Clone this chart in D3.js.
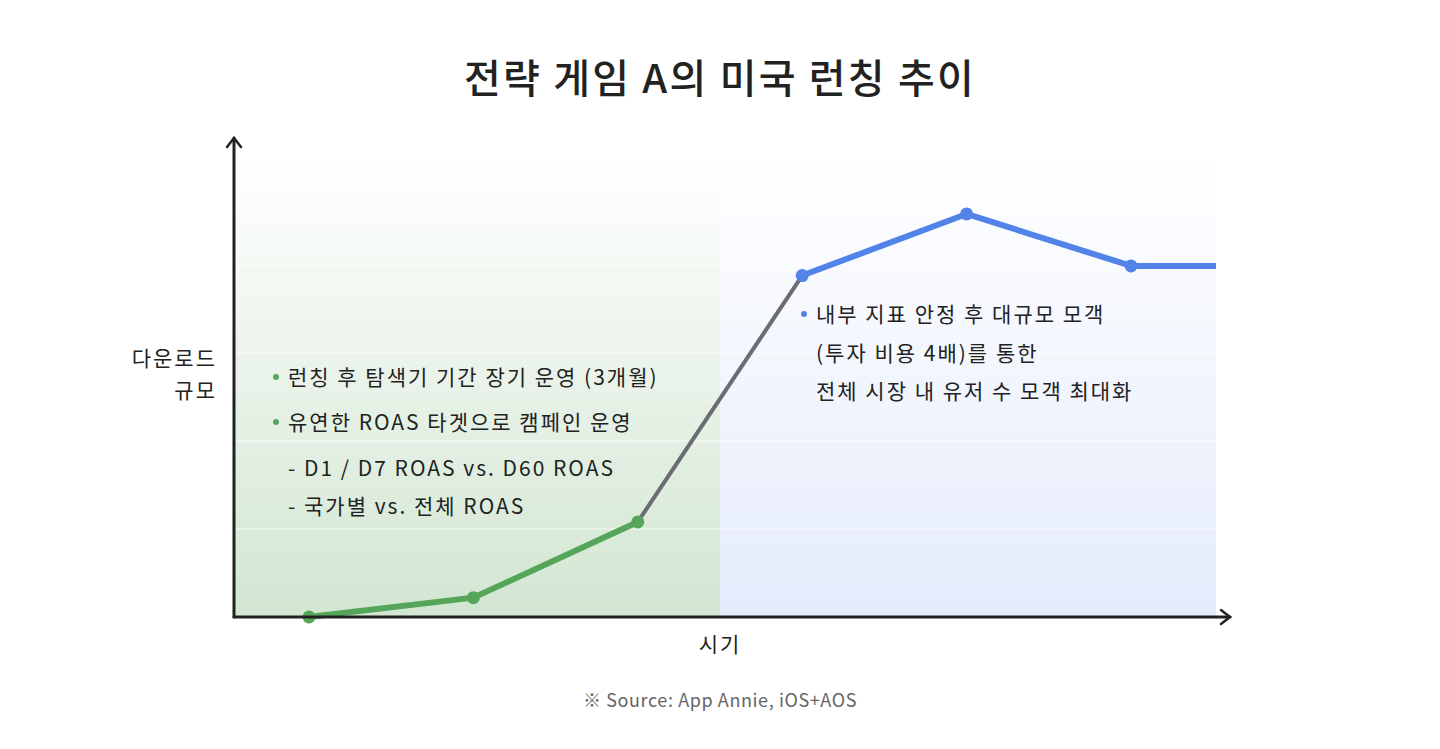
<!DOCTYPE html>
<html><head><meta charset="utf-8">
<script src="https://cdn.jsdelivr.net/npm/d3@7"></script>
<style>body{margin:0;background:#fff}svg{display:block;font-family:"Noto Sans CJK KR","Noto Sans",sans-serif}</style>
</head><body><svg id="c" width="1440" height="749"></svg>
<script>
const periods = [0,1,2,3,4,5];
const downloads = [0, 0.22, 1.08, 3.88, 4.58, 3.99];
const tailValue = 3.99;
const gridTicks = [1,2,3,4,5];
const greenNotes = ["런칭 후 탐색기 기간 장기 운영 (3개월)","유연한 ROAS 타겟으로 캠페인 운영"];
const greenSub = ["- D1 / D7 ROAS vs. D60 ROAS","- 국가별 vs. 전체 ROAS"];
const blueNotes = ["내부 지표 안정 후 대규모 모객","(투자 비용 4배)를 통한","전체 시장 내 유저 수 모객 최대화"];

const svg = d3.select("#c");
const x = d3.scaleLinear().domain([-0.456, 5.517]).range([234,1216]);
const y = d3.scaleLinear().domain([0,5.25]).range([617,155]);
const defs = svg.append("defs");
const g1 = defs.append("linearGradient").attr("id","gg").attr("x1",0).attr("x2",0).attr("y1",0).attr("y2",1);
g1.append("stop").attr("offset",0).attr("stop-color","#ffffff");
g1.append("stop").attr("offset",1).attr("stop-color","#d2e6d2");
const g2 = defs.append("linearGradient").attr("id","gb").attr("x1",0).attr("x2",0).attr("y1",0).attr("y2",1);
g2.append("stop").attr("offset",0).attr("stop-color","#ffffff");
g2.append("stop").attr("offset",1).attr("stop-color","#e4ebfb");
svg.append("rect").attr("x",x(-0.456)).attr("y",y(5.25)).attr("width",x(2.5)-x(-0.456)).attr("height",y(0)-y(5.25)).attr("fill","url(#gg)");
svg.append("rect").attr("x",x(2.5)).attr("y",y(5.25)).attr("width",x(5.517)-x(2.5)).attr("height",y(0)-y(5.25)).attr("fill","url(#gb)");
svg.append("g").selectAll("line").data(gridTicks).join("line")
 .attr("x1",234).attr("x2",1216).attr("y1",d=>y(d)).attr("y2",d=>y(d)).attr("stroke","#ffffff").attr("stroke-opacity",0.8);

const line = d3.line().x(d=>x(d[0])).y(d=>y(d[1]));
const pts = periods.map((p,i)=>[p,downloads[i]]);
svg.append("path").attr("d",line(pts.slice(2,4))).attr("stroke","#6b6b72").attr("stroke-width",4).attr("fill","none");
svg.append("path").attr("d",line(pts.slice(0,3))).attr("stroke","#55a65a").attr("stroke-width",6).attr("fill","none").attr("stroke-linejoin","round");
svg.append("path").attr("d",line(pts.slice(3).concat([[5.517,tailValue]]))).attr("stroke","#5283e8").attr("stroke-width",6).attr("fill","none").attr("stroke-linejoin","round");
svg.append("g").selectAll("circle").data(pts).join("circle")
 .attr("cx",d=>x(d[0])).attr("cy",d=>y(d[1])).attr("r",6.5).attr("fill",(d,i)=>i<3?"#55a65a":"#5283e8");

const ax = svg.append("g").attr("stroke","#222").attr("stroke-width",3).attr("fill","none").attr("stroke-linecap","round");
ax.append("line").attr("x1",234).attr("y1",617).attr("x2",234).attr("y2",138);
ax.append("line").attr("x1",234).attr("y1",617).attr("x2",1230).attr("y2",617);
ax.append("path").attr("d","M227,147 L234,138 L241,147").attr("stroke-width",2.5);
ax.append("path").attr("d","M1221,610 L1230,617 L1221,624").attr("stroke-width",2.5);

svg.append("text").attr("x",720).attr("y",93).attr("text-anchor","middle").attr("font-size",40).attr("font-weight",500).attr("letter-spacing",2.2).attr("fill","#222").text("전략 게임 A의 미국 런칭 추이");
svg.append("text").attr("x",217).attr("y",366).attr("text-anchor","end").attr("font-size",21).attr("letter-spacing",2).attr("fill","#222").text("다운로드");
svg.append("text").attr("x",217).attr("y",398).attr("text-anchor","end").attr("font-size",21).attr("letter-spacing",2).attr("fill","#222").text("규모");
svg.append("text").attr("x",720).attr("y",652).attr("text-anchor","middle").attr("font-size",21).attr("letter-spacing",2).attr("fill","#222").text("시기");
svg.append("text").attr("x",720).attr("y",707).attr("text-anchor","middle").attr("font-size",18).attr("letter-spacing",0.6).attr("fill","#666").text("※ Source: App Annie, iOS+AOS");

const body = (t,xx,yy)=>svg.append("text").attr("x",xx).attr("y",yy).attr("font-size",21).attr("letter-spacing",2).attr("fill","#222").text(t);
greenNotes.forEach((t,i)=>{
 svg.append("circle").attr("cx",276).attr("cy",377+i*45).attr("r",3).attr("fill","#55a65a");
 body(t,288,385+i*45);
});
greenSub.forEach((t,i)=>body(t,288,476+i*38));
blueNotes.forEach((t,i)=>{
 if(i===0) svg.append("circle").attr("cx",804).attr("cy",314).attr("r",3).attr("fill","#5283e8");
 body(t,816,322+i*38.5);
});
</script></body></html>
